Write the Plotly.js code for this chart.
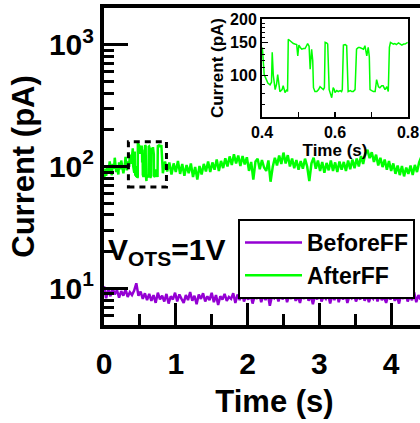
<!DOCTYPE html>
<html>
<head>
<meta charset="utf-8">
<script src="https://cdn.plot.ly/plotly-3.0.1.min.js"></script>
<style>
html,body{margin:0;padding:0;overflow:hidden;background:#fff;}
#chart{width:470px;height:423px;}
</style>
</head>
<body>
<div id="chart"></div>
<script>
// ---- Data ----
var beforeTime = [0.00,0.03,0.06,0.09,0.12,0.15,0.18,0.21,0.24,0.27,
  0.30,0.33,0.36,0.39,0.42,0.45,0.48,0.51,0.54,0.57,
  0.60,0.63,0.66,0.69,0.72,0.75,0.78,0.81,0.84,0.87,
  0.90,0.93,0.96,0.99,1.02,1.05,1.08,1.11,1.14,1.17,
  1.20,1.23,1.26,1.29,1.32,1.35,1.38,1.41,1.44,1.47,
  1.50,1.53,1.56,1.59,1.62,1.65,1.68,1.71,1.74,1.77,
  1.80,1.83,1.86,1.89,1.92,1.95,1.98,2.01,2.04,2.07,
  2.10,2.13,2.16,2.19,2.22,2.25,2.28,2.31,2.34,2.37,
  2.40,2.43,2.46,2.49,2.52,2.55,2.58,2.61,2.64,2.67,
  2.70,2.73,2.76,2.79,2.82,2.85,2.88,2.91,2.94,2.97,
  3.00,3.03,3.06,3.09,3.12,3.15,3.18,3.21,3.24,3.27,
  3.30,3.33,3.36,3.39,3.42,3.45,3.48,3.51,3.54,3.57,
  3.60,3.63,3.66,3.69,3.72,3.75,3.78,3.81,3.84,3.87,
  3.90,3.93,3.96,3.99,4.02,4.05,4.08,4.11,4.14,4.17,
  4.20,4.23,4.26,4.29,4.32,4.35,4.38,4.41,4.44,4.47,
  4.50,4.53,4.56,4.59,4.62,4.65,4.68,4.71,4.74];
var beforeCurrent = [10.4,8.3,9.9,8.6,10.1,8.9,9.7,8.4,9.5,8.7,
  9.8,8.5,9.3,8.8,9.6,11.0,8.7,9.4,8.2,9.1,
  8.0,9.0,7.9,8.8,7.6,9.2,8.1,8.7,7.8,9.0,
  7.5,8.6,8.1,9.2,7.8,8.9,8.2,7.6,8.8,8.0,
  9.3,7.9,8.7,7.4,8.9,8.2,9.1,7.8,8.6,8.0,
  9.2,7.7,8.8,7.3,8.6,8.1,9.0,7.9,8.5,8.2,
  9.1,7.6,8.9,8.0,9.4,7.8,8.6,8.1,9.0,7.5,
  8.7,8.2,9.2,7.7,8.8,8.0,9.1,7.2,8.6,8.3,
  9.0,7.8,8.9,8.1,9.3,7.7,8.7,8.2,9.1,7.9,
  8.6,7.6,8.9,8.2,9.2,7.9,8.7,7.4,8.8,8.1,
  9.4,7.8,8.6,8.2,9.0,7.5,8.8,8.0,9.2,7.7,
  8.9,8.1,9.1,7.6,8.7,8.3,9.0,7.8,8.6,8.1,
  9.2,7.9,8.8,7.7,8.6,8.2,9.1,7.8,8.9,8.0,
  8.5,7.6,8.8,8.1,9.0,7.9,8.6,7.5,8.9,8.2,
  9.1,7.8,8.7,8.0,9.3,7.7,8.8,8.1,9.6,8.0,
  8.9,7.9,8.6,8.2,9.0,7.8,8.7,8.3,9.1];

var afterPreTime = [0.00,0.02,0.03,0.05,0.06,0.08,0.09,0.11,0.12,0.14,0.15,0.17,0.18,0.20,0.21,0.23,0.24,0.26,0.27,0.29,0.30,0.32,0.33,0.35,0.36,0.38,0.39];
var afterPreCurrent = [78,96,84,102,88,110,92,85,105,96,118,90,100,86,108,95,112,98,88,104,120,93,110,99,125,105,120];

// zoomed window 0.4 - 0.8 s (random telegraph noise), also drawn in the inset
var insetTime = [0.401,0.406,0.412,0.416,0.422,0.426,0.428,0.431,0.436,0.440,0.443,0.447,0.449,0.455,0.458,0.461,0.463,0.468,0.470,
  0.472,0.477,0.481,0.486,0.490,0.495,0.498,0.501,0.505,0.509,0.514,0.518,0.522,0.525,0.529,0.532,0.536,0.539,
  0.541,0.545,0.550,0.555,0.559,0.564,0.568,0.571,0.573,0.577,0.580,0.584,0.588,0.591,0.595,0.598,0.600,0.605,
  0.609,0.614,0.618,0.620,0.623,0.628,0.632,0.636,0.642,0.646,0.650,0.655,0.659,0.664,0.668,0.673,0.678,0.682,
  0.685,0.687,0.691,0.694,0.696,0.700,0.705,0.710,0.714,0.719,0.723,0.728,0.732,0.737,0.742,0.746,0.749,0.752,
  0.755,0.760,0.764,0.768,0.774,0.778,0.783,0.788,0.792,0.799];
var insetCurrent = [141,101,95,91,89,92,133,100,84,90,101,86,82,84,88,84,81,84,82,
  156,153,150,148,147,146,127,145,141,138,139,139,144,148,143,108,138,120,
  86,82,82,84,87,85,84,86,150,149,147,84,80,76,86,84,81,83,
  82,83,82,84,145,146,144,82,83,82,82,84,138,141,141,139,138,144,
  132,127,141,126,84,83,82,82,95,87,86,88,88,84,87,82,141,150,
  149,147,148,146,149,147,145,147,147,150];

var afterPostTime = [0.82,0.85,0.88,0.91,0.94,0.97,1.00,1.03,1.06,1.09,
  1.12,1.15,1.18,1.21,1.24,1.27,1.30,1.33,1.36,1.39,
  1.42,1.45,1.48,1.51,1.54,1.57,1.60,1.63,1.66,1.69,
  1.72,1.75,1.78,1.81,1.84,1.87,1.90,1.93,1.96,1.99,
  2.02,2.05,2.08,2.11,2.14,2.17,2.20,2.23,2.26,2.29,
  2.32,2.35,2.38,2.41,2.44,2.47,2.50,2.53,2.56,2.59,
  2.62,2.65,2.68,2.71,2.74,2.77,2.80,2.83,2.86,2.89,
  2.92,2.95,2.98,3.01,3.04,3.07,3.10,3.13,3.16,3.19,
  3.22,3.25,3.28,3.31,3.34,3.37,3.40,3.43,3.46,3.49,
  3.52,3.55,3.58,3.61,3.64,3.67,3.70,3.73,3.76,3.79,
  3.82,3.85,3.88,3.91,3.94,3.97,4.00,4.03,4.06,4.09,
  4.12,4.15,4.18,4.21,4.24,4.27,4.30,4.33,4.36,4.39,
  4.42,4.45,4.48,4.51,4.54,4.57,4.60,4.63,4.66,4.69,
  4.72,4.75];
var afterPostCurrent = [88,110,91,108,86,106,90,111,87,105,
  84,103,88,106,82,99,78,101,86,105,
  91,110,90,108,94,114,92,111,97,117,
  100,121,103,126,106,123,101,122,104,119,
  92,109,78,110,116,95,113,98,92,112,
  75,99,118,102,123,105,130,106,124,100,
  116,97,113,94,111,96,116,100,76,106,
  118,96,112,92,109,89,107,93,112,92,
  108,90,110,94,109,92,112,95,114,97,
  116,100,122,105,128,137,117,131,109,125,
  102,118,99,114,94,111,92,106,87,102,
  85,101,83,98,87,102,85,103,90,108,
  120,102,117,98,115,96,113,94,112,98,
  115,100];

var mainYTicks = [10, 100, 1000];
var mainYTickText = ['10<sup>1</sup>', '10<sup>2</sup>', '10<sup>3</sup>'];
var mainYMinor = [5,6,7,8,9,20,30,40,50,60,70,80,90,200,300,400,500,600,700,800,900,2000];
var mainXTicks = [0,1,2,3,4,5];
var insetXTicks = [0.4, 0.6, 0.8];
var insetXTickText = ['0.4', '0.6', '0.8'];
var insetYTicks = [100, 150, 200];
var insetYTickText = ['100', '150', '200'];
var insetYMinor = [60,70,80,90,110,120,130,140,160,170,180,190];

var legendNames = ['BeforeFF', 'AfterFF'];
var purple = '#9400D3';
var green = '#00FF00';

var afterTime = afterPreTime.concat(insetTime, afterPostTime);
var afterCurrent = afterPreCurrent.concat(insetCurrent, afterPostCurrent);

var FONT = 'Liberation Sans, Arial, Helvetica, sans-serif';

var traces = [
  // BeforeFF is drawn against the labelled overlay x axis (same domain and range as the main x axis)
  {x: beforeTime, y: beforeCurrent, type: 'scatter', mode: 'lines', name: legendNames[0],
   line: {color: purple, width: 2.5}, xaxis: 'x3', yaxis: 'y'},
  {x: afterTime, y: afterCurrent, type: 'scatter', mode: 'lines', name: legendNames[1],
   line: {color: green, width: 2.5}, xaxis: 'x', yaxis: 'y'},
  {x: insetTime, y: insetCurrent, type: 'scatter', mode: 'lines', name: 'AfterFF (zoom)',
   showlegend: false, line: {color: green, width: 1.5}, xaxis: 'x2', yaxis: 'y2'}
];

var L = 104, R = 445, T = 8, B = 325, W = 470, H = 423;
function px2fx(p){ return (p - L) / (R - L); }
function px2fy(p){ return 1 - (p - T) / (B - T); }
var XRANGE = [0, 4.75];

var layout = {
  width: W, height: H,
  margin: {l: L, r: W - R, t: T, b: H - B, pad: 0},
  paper_bgcolor: 'white', plot_bgcolor: 'white',
  font: {family: FONT, color: 'black', weight: 'bold'},
  showlegend: true,
  // main x axis: line, inside ticks (labels carried by the overlay axis below)
  xaxis: {
    domain: [0, 1], range: XRANGE, tickvals: mainXTicks,
    ticks: 'inside', ticklen: 22, tickwidth: 3, tickcolor: 'black',
    showline: true, linewidth: 4, linecolor: 'black', mirror: true,
    showgrid: false, zeroline: false, showticklabels: false,
    minor: {dtick: 0.5, tick0: 0, ticks: 'inside', ticklen: 11, tickwidth: 3, tickcolor: 'black', showgrid: false}
  },
  // overlay x axis: same scale, carries tick labels (pushed down by invisible ticks) and the title
  xaxis3: {
    overlaying: 'x', anchor: 'y', side: 'bottom', domain: [0, 1], range: XRANGE, tickvals: mainXTicks,
    ticks: 'outside', ticklen: 12, tickwidth: 1, tickcolor: 'rgba(0,0,0,0)',
    showline: false, showgrid: false, zeroline: false,
    tickfont: {size: 30, weight: 'bold', family: FONT},
    title: {text: 'Time (s)', font: {size: 31, weight: 'bold', family: FONT}, standoff: 11}
  },
  yaxis: {
    domain: [0, 1], type: 'log', range: [Math.log10(5), Math.log10(2000)],
    tickvals: mainYTicks, ticktext: mainYTickText,
    ticks: 'inside', ticklen: 24, tickwidth: 3, tickcolor: 'black',
    showline: true, linewidth: 4, linecolor: 'black', mirror: true,
    showgrid: false, zeroline: false,
    tickfont: {size: 30, weight: 'bold', family: FONT},
    minor: {tickvals: mainYMinor, ticks: 'inside', ticklen: 10, tickwidth: 3, tickcolor: 'black', showgrid: false},
    title: {text: 'Current (pA)', font: {size: 31, weight: 'bold', family: FONT}, standoff: 6}
  },
  xaxis2: {
    domain: [px2fx(262), px2fx(408)], anchor: 'y2', range: [0.4, 0.8],
    tickvals: insetXTicks, ticktext: insetXTickText,
    ticks: 'inside', ticklen: 5, tickwidth: 1.5, tickcolor: 'black',
    showline: true, linewidth: 2, linecolor: 'black', mirror: true,
    showgrid: false, zeroline: false,
    tickfont: {size: 16, weight: 'bold', family: FONT},
    minor: {tickvals: [0.5, 0.7], ticks: 'inside', ticklen: 5, tickwidth: 1.5, tickcolor: 'black', showgrid: false},
    title: {text: 'Time (s)', font: {size: 17, weight: 'bold', family: FONT}, standoff: 0}
  },
  yaxis2: {
    domain: [px2fy(117), px2fy(19)], anchor: 'x2', type: 'log',
    range: [Math.log10(60), Math.log10(200)],
    tickvals: insetYTicks, ticktext: insetYTickText,
    ticks: 'inside', ticklen: 6, tickwidth: 1.5, tickcolor: 'black',
    showline: true, linewidth: 2, linecolor: 'black', mirror: true,
    showgrid: false, zeroline: false,
    tickfont: {size: 16, weight: 'bold', family: FONT},
    minor: {tickvals: insetYMinor, ticks: 'inside', ticklen: 3, tickwidth: 1, tickcolor: 'black', showgrid: false},
    title: {text: 'Current (pA)', font: {size: 17, weight: 'bold', family: FONT}, standoff: 2}
  },
  legend: {
    x: px2fx(238), y: px2fy(219), xanchor: 'left', yanchor: 'top',
    bgcolor: 'white', bordercolor: 'black', borderwidth: 2,
    font: {size: 23, weight: 'bold', family: FONT},
    itemwidth: 57, tracegroupgap: 0
  },
  shapes: [{
    type: 'rect', xref: 'x', yref: 'y', x0: 0.34, x1: 0.87, y0: 68, y1: 160,
    line: {color: 'black', width: 3, dash: '6px,5px'}, fillcolor: 'rgba(0,0,0,0)'
  }],
  annotations: [{
    xref: 'paper', yref: 'paper', x: px2fx(106), y: px2fy(251), xanchor: 'left', yanchor: 'middle',
    text: 'V<sub>OTS</sub>=1V', showarrow: false,
    font: {size: 30, weight: 'bold', family: FONT, color: 'black'}
  }]
};

Plotly.newPlot('chart', traces, layout, {staticPlot: true, displayModeBar: false});
</script>
</body>
</html>
